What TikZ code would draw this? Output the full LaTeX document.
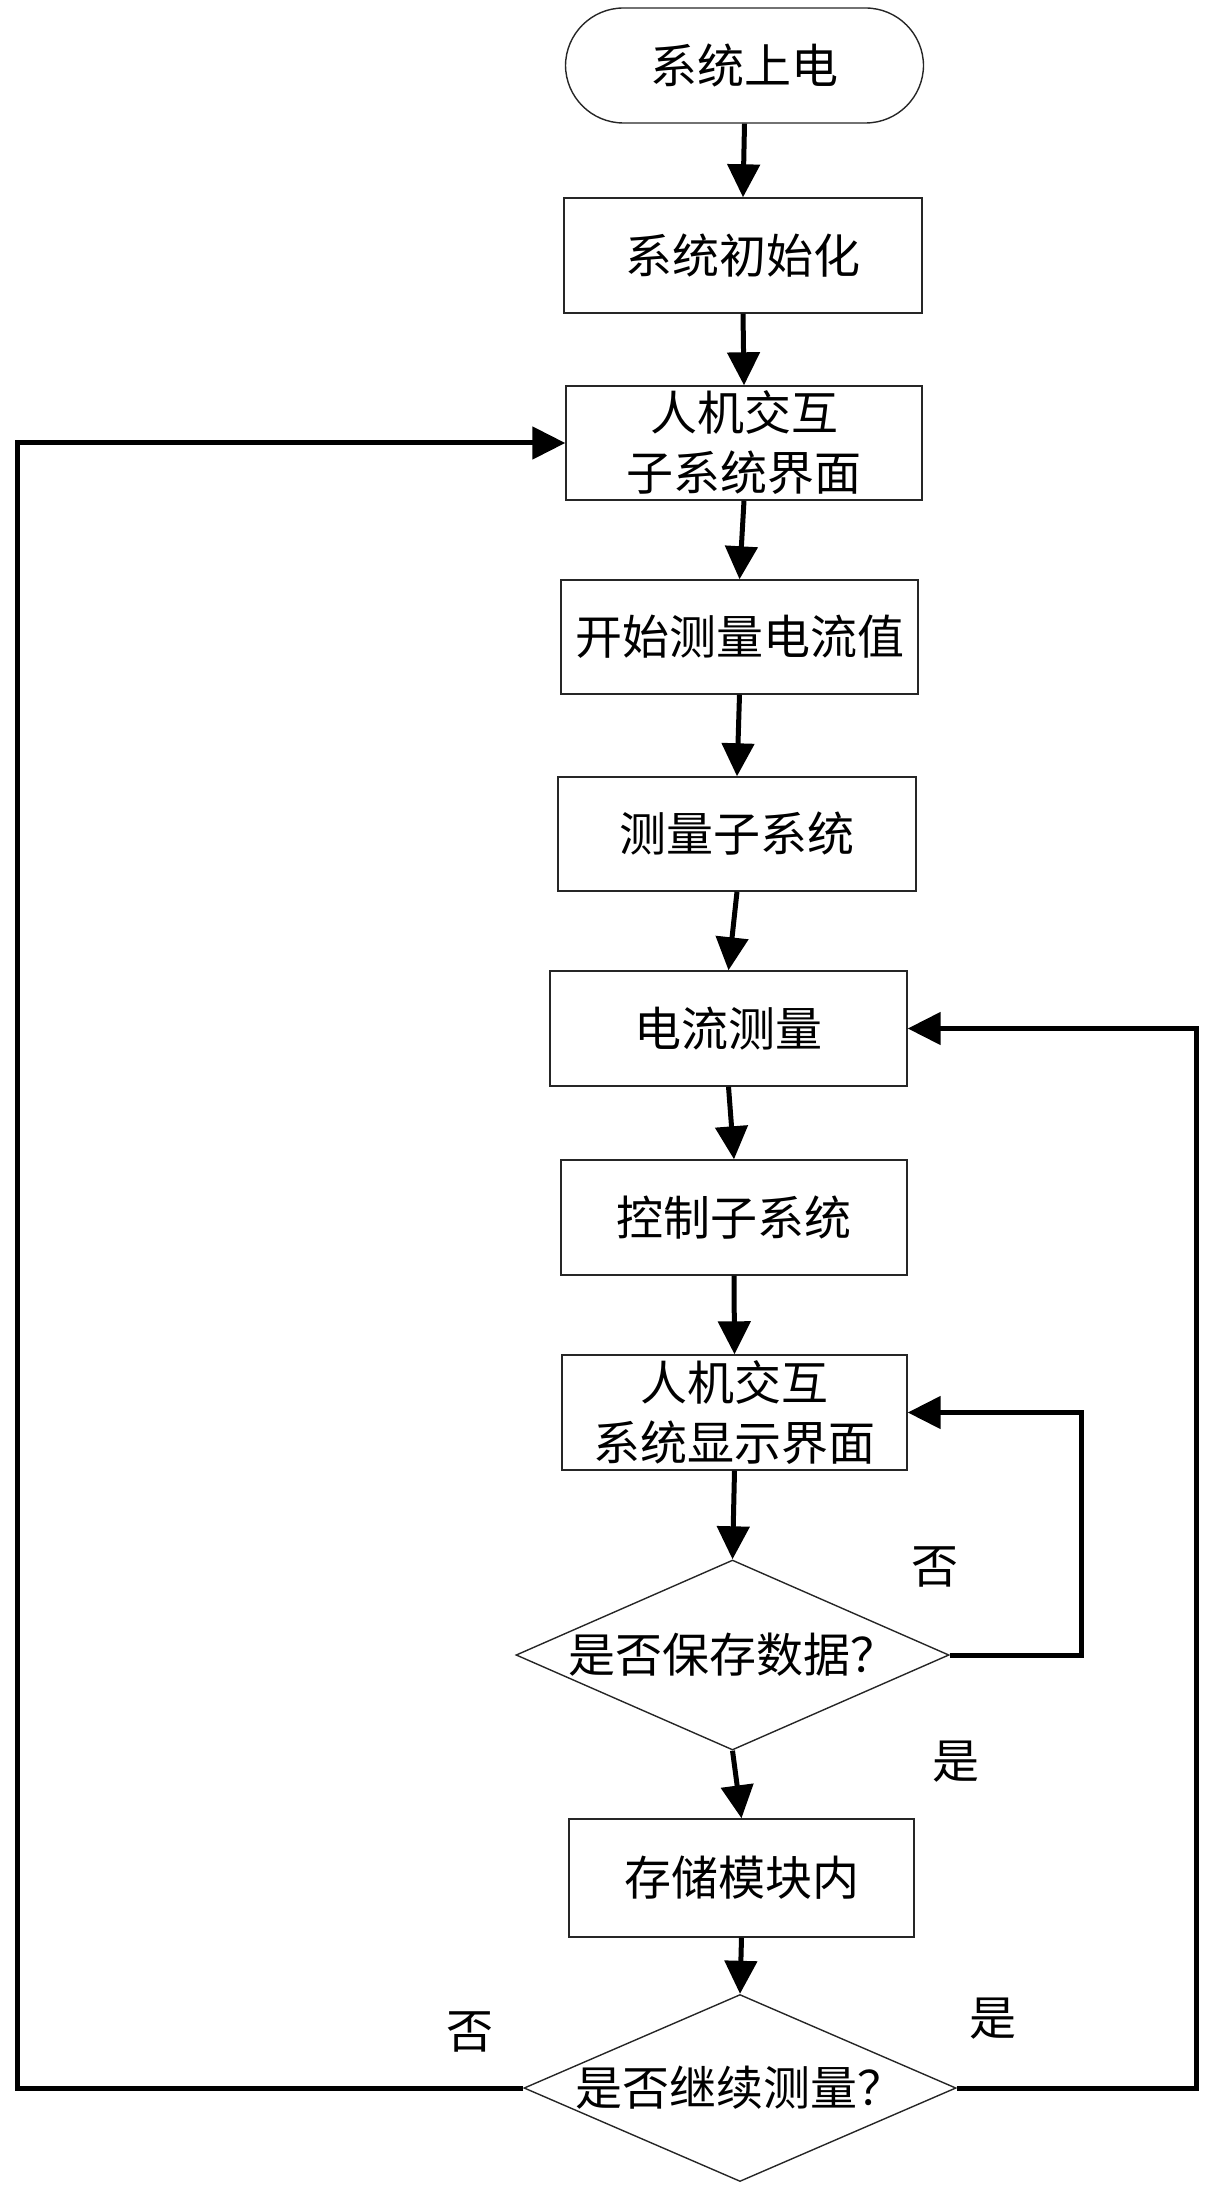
\documentclass[tikz,border=0pt]{standalone}
\usepackage{fontspec}
\setmainfont{Noto Sans CJK SC}
\usetikzlibrary{arrows.meta,shapes.geometric}
\begin{document}
\begin{tikzpicture}[x=0.5pt,y=-0.5pt,
  txt/.style={font=\fontsize{23.5}{30}\selectfont, inner sep=0pt, align=center},
  box/.style={txt, draw=black!85, line width=0.7pt, minimum width=179pt, minimum height=57.5pt},
  term/.style={box, rounded corners=29pt},
  dia/.style={diamond, draw=black!85, line width=0.7pt, inner sep=0pt, minimum width=216pt, minimum height=94pt},
  arr/.style={line width=2.5pt, -{Triangle[length=16.5pt,width=16pt]}},
  lbl/.style={txt}]
\useasboundingbox (0,0) rectangle (1207,2187);

\node[term] (t) at (744.5,65.5) {系统上电};
\node[box] (b1) at (743,255.5) {系统初始化};
\node[box, minimum width=178pt, minimum height=57pt] (b2) at (744,443) {人机交互\\子系统界面};
\node[box, minimum width=178.5pt, minimum height=57pt] (b3) at (739.5,637) {开始测量电流值};
\node[box, minimum height=57pt] (b4) at (737,834) {测量子系统};
\node[box, minimum width=178.5pt] (b5) at (728.5,1028.5) {电流测量};
\node[box, minimum width=173pt] (b6) at (734,1217.5) {控制子系统};
\node[box, minimum width=172.5pt] (b7) at (734.5,1412.5) {人机交互\\系统显示界面};
\node[dia, minimum width=216.5pt, minimum height=95pt] (d1) at (732.5,1655) {};
\node[txt] (d1t) at (732.5,1655) {是否保存数据？};
\node[box, minimum width=172.5pt, minimum height=59pt] (b8) at (741.5,1878) {存储模块内};
\node[dia, minimum width=216pt, minimum height=93.5pt] (d2) at (740,2088) {};
\node[txt] (d2t) at (740,2088) {是否继续测量？};

\node[lbl] (no1) at (935,1567) {否};
\node[lbl] (yes1) at (956,1762) {是};
\node[lbl] (no2) at (470,2032) {否};
\node[lbl] (yes2) at (993,2019) {是};

\draw[arr] (t.south) -- (b1.north);
\draw[arr] (b1.south) -- (b2.north);
\draw[arr] (b2.south) -- (b3.north);
\draw[arr] (b3.south) -- (b4.north);
\draw[arr] (b4.south) -- (b5.north);
\draw[arr] (b5.south) -- (b6.north);
\draw[arr] (b6.south) -- (b7.north);
\draw[arr] (b7.south) -- (d1.north);
\draw[arr] (d1.south) -- (b8.north);
\draw[arr] (b8.south) -- (d2.north);

\coordinate (lc) at (17,443);
\coordinate (rc) at (1196,1028.5);
\coordinate (ic) at (1081,1412.5);
\draw[arr] (d2.west) -| (lc) -- (b2.west);
\draw[arr] (d2.east) -| (rc) -- (b5.east);
\draw[arr] (d1.east) -| (ic) -- (b7.east);
\end{tikzpicture}
\end{document}
